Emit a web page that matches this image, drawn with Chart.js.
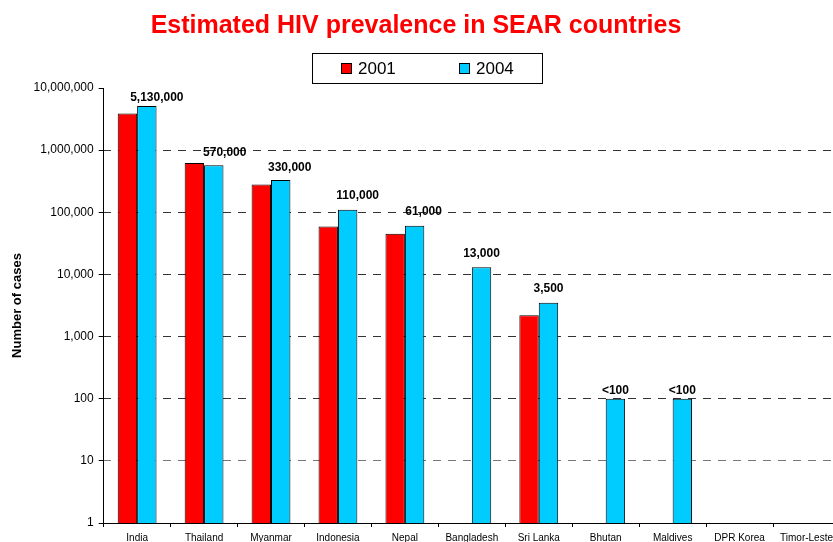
<!DOCTYPE html>
<html>
<head>
<meta charset="utf-8">
<script src="https://cdn.jsdelivr.net/npm/chart.js@4.4.1/dist/chart.umd.min.js"></script>
<style>
  html, body { margin: 0; padding: 0; background: #fff; overflow: hidden; }
  #wrap { width: 850px; height: 549px; }
</style>
</head>
<body>
<div id="wrap"><canvas id="myChart"></canvas></div>
<script>
const countries = ["India", "Thailand", "Myanmar", "Indonesia", "Nepal", "Bangladesh",
  "Sri Lanka", "Bhutan", "Maldives", "DPR Korea", "Timor-Leste"];
const cases2001 = [3900000, 620000, 280000, 59000, 45000, null, 2200, null, null, null, null];
const cases2004 = [5130000, 570000, 330000, 110000, 61000, 13000, 3500, 100, 100, null, null];
const labels2004 = ["5,130,000", "570,000", "330,000", "110,000", "61,000", "13,000",
  "3,500", "<100", "<100", "", ""];
const yTicks = [1, 10, 100, 1000, 10000, 100000, 1000000, 10000000];

Chart.defaults.font.family = "Arial, 'Liberation Sans', sans-serif";
Chart.defaults.color = "#000";

// label nudges (px) as placed in the original
const labelDx = [10, 11, 9, 10, 9, 0, 0, 0, 0, 0, 0];
const labelDy = [8, 13, 12, 14, 14, 14, 14, 8, 8, 0, 0];

const valueLabels = {
  id: "valueLabels",
  afterDatasetsDraw(chart) {
    const ctx = chart.ctx;
    const meta = chart.getDatasetMeta(1);
    ctx.save();
    ctx.font = "bold 12px Arial, 'Liberation Sans', sans-serif";
    ctx.fillStyle = "#000";
    ctx.textAlign = "center";
    ctx.textBaseline = "middle";
    meta.data.forEach((bar, i) => {
      if (!labels2004[i]) return;
      ctx.fillText(labels2004[i], bar.x + labelDx[i], bar.y - labelDy[i]);
    });
    ctx.restore();
  },
};

// title and boxed legend at the top
const header = {
  id: "header",
  afterDraw(chart) {
    const ctx = chart.ctx;
    ctx.save();
    ctx.font = "bold 25px Arial, 'Liberation Sans', sans-serif";
    ctx.fillStyle = "#ff0000";
    ctx.textAlign = "center";
    ctx.textBaseline = "middle";
    ctx.fillText("Estimated HIV prevalence in SEAR countries", 416, 26);

    ctx.textAlign = "left";
    ctx.fillStyle = "#fff";
    ctx.strokeStyle = "#000";
    ctx.lineWidth = 1;
    ctx.fillRect(312, 53, 230, 30);
    ctx.strokeRect(312.5, 53.5, 230, 30);
    ctx.font = "17px Arial, 'Liberation Sans', sans-serif";
    const xs = [341, 459];
    chart.data.datasets.forEach((ds, i) => {
      ctx.fillStyle = ds.backgroundColor;
      ctx.fillRect(xs[i], 63, 11, 11);
      ctx.strokeStyle = "#000";
      ctx.strokeRect(xs[i] + 0.5, 63.5, 10, 10);
      ctx.fillStyle = "#000";
      ctx.fillText(ds.label, xs[i] + 17, 69);
    });
    ctx.restore();
  },
};

new Chart(document.querySelector("#myChart").getContext("2d"), {
  type: "bar",
  data: {
    labels: countries,
    datasets: [
      {
        label: "2001",
        data: cases2001,
        backgroundColor: "#ff0000",
        borderColor: "#000",
        borderWidth: 1,
        categoryPercentage: 0.58,
        barPercentage: 1,
      },
      {
        label: "2004",
        data: cases2004,
        backgroundColor: "#00ccff",
        borderColor: "#000",
        borderWidth: 1,
        categoryPercentage: 0.58,
        barPercentage: 1,
      },
    ],
  },
  options: {
    responsive: true,
    maintainAspectRatio: false,
    animation: false,
    layout: { padding: { left: 10, right: 10, top: 88, bottom: 0 } },
    plugins: {
      legend: { display: false },
      tooltip: { enabled: false },
      title: { display: false },
    },
    scales: {
      x: {
        grid: {
          drawOnChartArea: false,
          drawTicks: true,
          tickLength: 4,
          tickColor: "#000",
        },
        border: { color: "#000", width: 1 },
        ticks: { font: { size: 10 }, padding: 5, maxRotation: 0, autoSkip: false },
      },
      y: {
        type: "logarithmic",
        min: 1,
        max: 10000000,
        afterBuildTicks(axis) {
          axis.ticks = yTicks.map((v) => ({ value: v, major: true }));
        },
        ticks: {
          font: { size: 12 },
          padding: 5,
          callback: (v) => Number(v).toLocaleString("en-US"),
        },
        grid: {
          color: (c) => (c.tick && (c.tick.value === 1 || c.tick.value === 10000000)) ? "rgba(0,0,0,0)" :
            (c.tick && c.tick.value === 10 ? "#777" : "#333"),
          tickColor: "#000",
          tickLength: 5,
          tickBorderDash: [],
        },
        border: { color: "#000", width: 1, dash: [8, 7], dashOffset: -14 },
        title: {
          display: true,
          text: "Number of cases",
          font: { size: 13, weight: "bold" },
          padding: { top: 0, bottom: 3 },
        },
      },
    },
  },
  plugins: [valueLabels, header],
});
</script>
</body>
</html>
